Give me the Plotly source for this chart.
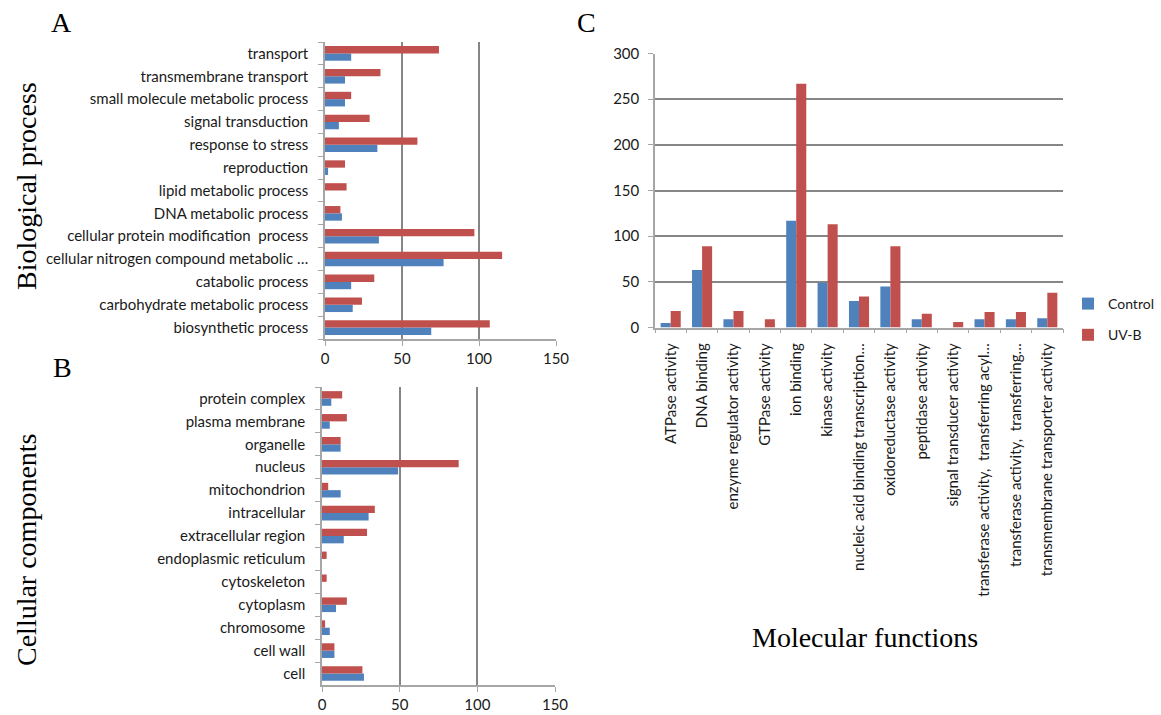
import plotly.graph_objects as go

W, H = 1161, 715

# ---------- data ----------
bp_categories = ["biosynthetic process", "carbohydrate metabolic process", "catabolic process",
                 "cellular nitrogen compound metabolic …", "cellular protein modification  process",
                 "DNA metabolic process", "lipid metabolic process", "reproduction",
                 "response to stress", "signal transduction", "small molecule metabolic process",
                 "transmembrane transport", "transport"]
bp_control = [69, 18, 17, 77, 35, 11, 0, 2, 34, 9, 13, 13, 17]
bp_uvb = [107, 24, 32, 115, 97, 10, 14, 13, 60, 29, 17, 36, 74]

cc_categories = ["cell", "cell wall", "chromosome", "cytoplasm", "cytoskeleton",
                 "endoplasmic reticulum", "extracellular region", "intracellular",
                 "mitochondrion", "nucleus", "organelle", "plasma membrane", "protein complex"]
cc_control = [27, 8, 5, 9, 0, 0, 14, 30, 12, 49, 12, 5, 6]
cc_uvb = [26, 8, 2, 16, 3, 3, 29, 34, 4, 88, 12, 16, 13]

mf_categories = ["ATPase activity", "DNA binding", "enzyme regulator activity", "GTPase activity",
                 "ion binding", "kinase activity", "nucleic acid binding transcription…",
                 "oxidoreductase activity", "peptidase activity", "signal transducer activity",
                 "transferase activity,  transferring acyl…", "transferase activity,  transferring…",
                 "transmembrane transporter activity"]
mf_control = [5, 63, 9, 0, 117, 49, 29, 45, 9, 0, 9, 9, 10]
mf_uvb = [18, 89, 18, 9, 267, 113, 34, 89, 15, 6, 17, 17, 38]

series_names = ["Control", "UV-B"]
hbar_ticks = [0, 50, 100, 150]
vbar_ticks = [0, 50, 100, 150, 200, 250, 300]

BLUE = "#4F81BD"
RED = "#C0504D"
GRID = "#868686"
AXIS = "#a6a6a6"
SANS = "Lato, 'Open Sans', sans-serif"
SERIF = "'Liberation Serif', 'DejaVu Serif', serif"
TXT = "#1a1a1a"

def px_x(x):
    return x / W

def px_y(y):
    return 1 - y / H

fig = go.Figure()

def bar_marker(color):
    return dict(color=color, line=dict(width=0))

# Panel A
fig.add_trace(go.Bar(y=bp_categories, x=bp_control, orientation="h", name=series_names[0],
                     marker=bar_marker(BLUE), xaxis="x", yaxis="y", showlegend=False))
fig.add_trace(go.Bar(y=bp_categories, x=bp_uvb, orientation="h", name=series_names[1],
                     marker=bar_marker(RED), xaxis="x", yaxis="y", showlegend=False))
# Panel B
fig.add_trace(go.Bar(y=cc_categories, x=cc_control, orientation="h", name=series_names[0],
                     marker=bar_marker(BLUE), xaxis="x2", yaxis="y2", showlegend=False))
fig.add_trace(go.Bar(y=cc_categories, x=cc_uvb, orientation="h", name=series_names[1],
                     marker=bar_marker(RED), xaxis="x2", yaxis="y2", showlegend=False))
# Panel C
fig.add_trace(go.Bar(x=mf_categories, y=mf_control, name=series_names[0],
                     marker=bar_marker(BLUE), xaxis="x3", yaxis="y3", legendgroup="a"))
fig.add_trace(go.Bar(x=mf_categories, y=mf_uvb, name=series_names[1],
                     marker=bar_marker(RED), xaxis="x3", yaxis="y3", legendgroup="b"))

tickfont = dict(family=SANS, size=15, color=TXT)

def hx(domain, anchor):
    return dict(domain=domain, anchor=anchor, range=[0, 150], tickvals=hbar_ticks,
                showgrid=True, gridcolor=GRID, gridwidth=1.5, zeroline=False,
                showline=True, linecolor=AXIS, linewidth=1.5, ticks="outside",
                ticklen=5, tickcolor=AXIS, tickfont=tickfont, ticklabelstandoff=0,
                fixedrange=True)

def hy(domain, anchor, cats):
    return dict(domain=domain, anchor=anchor, type="category", categoryorder="array",
                categoryarray=cats, showgrid=False, zeroline=False, showline=True,
                linecolor=AXIS, linewidth=1.5, ticks="outside", ticklen=5,
                tickcolor=AXIS, tickson="boundaries", tickfont=tickfont,
                ticklabelstandoff=12, fixedrange=True)

fig.update_layout(
    width=W, height=H,
    margin=dict(l=0, r=0, t=0, b=0, autoexpand=False),
    paper_bgcolor="white", plot_bgcolor="white",
    barmode="group", bargap=0.36, bargroupgap=0.0,
    xaxis=hx([px_x(325), px_x(556)], "y"),
    yaxis=hy([px_y(339), px_y(42)], "x", bp_categories),
    xaxis2=hx([px_x(322), px_x(555)], "y2"),
    yaxis2=hy([px_y(685), px_y(387)], "x2", cc_categories),
    xaxis3=dict(domain=[px_x(655), px_x(1063)], anchor="y3", type="category",
                categoryorder="array", categoryarray=mf_categories, tickangle=-90,
                showgrid=False, zeroline=False, showline=True, linecolor=AXIS, linewidth=1.5,
                ticks="outside", ticklen=4, tickcolor=AXIS, tickson="boundaries",
                tickfont=tickfont, ticklabelstandoff=8, fixedrange=True),
    yaxis3=dict(domain=[px_y(327.5), px_y(53.5)], anchor="x3", range=[0, 300],
                tickvals=vbar_ticks, showgrid=True, gridcolor=GRID, gridwidth=1.5,
                zeroline=False, showline=True, linecolor=AXIS, linewidth=1.5,
                ticks="outside", ticklen=5, tickcolor=AXIS, tickfont=tickfont,
                ticklabelstandoff=6, fixedrange=True),
    legend=dict(x=px_x(1068), y=px_y(288), xanchor="left", yanchor="top",
                font=dict(family=SANS, size=14, color=TXT), traceorder="grouped",
                tracegroupgap=10, bgcolor="rgba(0,0,0,0)", itemclick=False),
)

annots = [
    dict(text="A", x=px_x(61), y=px_y(23), size=28),
    dict(text="B", x=px_x(62), y=px_y(368), size=28),
    dict(text="C", x=px_x(586), y=px_y(23), size=28),
    dict(text="Molecular functions", x=px_x(865), y=px_y(637), size=28),
]
for a in annots:
    fig.add_annotation(text=a["text"], x=a["x"], y=a["y"], xref="paper", yref="paper",
                       xanchor="center", yanchor="middle", showarrow=False,
                       font=dict(family=SERIF, size=a["size"], color="#000"))
for t, yc in [("Biological process", 186), ("Cellular components", 550)]:
    fig.add_annotation(text=t, x=px_x(26), y=px_y(yc), xref="paper", yref="paper",
                       xanchor="center", yanchor="middle", textangle=-90, showarrow=False,
                       font=dict(family=SERIF, size=28, color="#000"))

fig.write_html("out.html",
               config={"displayModeBar": False},
               post_script="document.body.style.margin='0';document.body.style.overflow='hidden';")
